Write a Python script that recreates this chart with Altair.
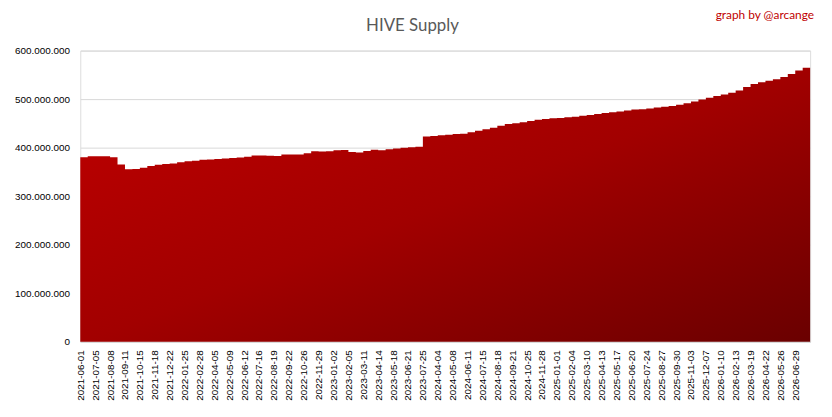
import altair as alt
import pandas as pd

# Axis label dates (every 34th day in the source sheet)
label_dates = [
    "2021-06-01", "2021-07-05", "2021-08-08", "2021-09-11", "2021-10-15", "2021-11-18",
    "2021-12-22", "2022-01-25", "2022-02-28", "2022-04-05", "2022-05-09", "2022-06-12",
    "2022-07-16", "2022-08-19", "2022-09-22", "2022-10-26", "2022-11-29", "2023-01-02",
    "2023-02-05", "2023-03-11", "2023-04-14", "2023-05-18", "2023-06-21", "2023-07-25",
    "2024-04-04", "2024-05-08", "2024-06-11", "2024-07-15", "2024-08-18", "2024-09-21",
    "2024-10-25", "2024-11-28", "2025-01-01", "2025-02-04", "2025-03-10", "2025-04-13",
    "2025-05-17", "2025-06-20", "2025-07-24", "2025-08-27", "2025-09-30", "2025-11-03",
    "2025-12-07", "2026-01-10", "2026-02-13", "2026-03-19", "2026-04-22", "2026-05-26",
    "2026-06-29",
]
# Intermediate sample dates (not labelled on the axis)
mid_dates = [
    "2021-06-18", "2021-07-22", "2021-08-25", "2021-09-28", "2021-11-01", "2021-12-05",
    "2022-01-08", "2022-02-11", "2022-03-17", "2022-04-22", "2022-05-26", "2022-06-29",
    "2022-08-02", "2022-09-05", "2022-10-09", "2022-11-12", "2022-12-16", "2023-01-19",
    "2023-02-22", "2023-03-28", "2023-05-01", "2023-06-04", "2023-07-08", "2024-03-18",
    "2024-04-21", "2024-05-25", "2024-06-28", "2024-08-01", "2024-09-04", "2024-10-08",
    "2024-11-11", "2024-12-15", "2025-01-18", "2025-02-21", "2025-03-27", "2025-04-30",
    "2025-06-03", "2025-07-07", "2025-08-10", "2025-09-13", "2025-10-17", "2025-11-20",
    "2025-12-24", "2026-01-27", "2026-03-02", "2026-04-05", "2026-05-09", "2026-06-12",
    "2026-07-16",
]
end_date = "2026-08-02"

# HIVE supply in millions, one value per sample date (label, mid, label, mid, ..., end)
supply_millions = [
    380, 382, 382, 382, 380, 365, 355.7, 356, 358.5, 362,
    364.7, 366.5, 367.3, 370, 372, 373, 375, 375.5, 376.5, 377.5,
    378.5, 379.6, 381, 383.7, 383.7, 383.2, 382.6, 385.7, 385.7, 385.7,
    388.4, 392.5, 392, 392.5, 394.5, 395, 391, 390, 393, 395.9,
    394.5, 396.5, 398, 400, 401, 402, 423, 424, 425.5, 426.5,
    428, 428.6, 431.5, 435, 438, 441, 445, 448.5, 450, 452.5,
    455, 457.5, 459.2, 460.8, 461.2, 462.6, 463.5, 465.5, 467.5, 469.5,
    471.5, 472.9, 474.5, 476.5, 478.5, 479, 480.5, 482.5, 484.5, 486,
    488.5, 491.5, 495, 499, 503, 506.5, 509.5, 513, 518, 525,
    531, 534.5, 538, 541, 545.5, 552, 559, 564.5, 567,
]

y_ticks = [0, 100_000_000, 200_000_000, 300_000_000, 400_000_000, 500_000_000, 600_000_000]

dates = []
for a, b in zip(label_dates, mid_dates):
    dates += [a, b]
dates.append(end_date)

df = pd.DataFrame({"date": dates, "supply": [v * 1_000_000 for v in supply_millions]})

grad = alt.Gradient(
    gradient="linear",
    stops=[
        alt.GradientStop(color="#c00000", offset=0),
        alt.GradientStop(color="#a20000", offset=0.5),
        alt.GradientStop(color="#6a0000", offset=1),
    ],
    x1=0, y1=0, x2=1, y2=1,
)

area = alt.Chart(df).mark_area(interpolate="step-after", color=grad).encode(
    x=alt.X(
        "date:O",
        sort=None,
        scale=alt.Scale(type="point", padding=0),
        axis=alt.Axis(
            values=label_dates,
            labelAngle=270,
            labelOverlap=False,
            labelPadding=8,
            ticks=False,
            tickSize=0,
            domain=True,
            domainColor="#d9d9d9",
            title=None,
            grid=False,
        ),
    ),
    y=alt.Y(
        "supply:Q",
        scale=alt.Scale(domain=[0, 600_000_000], nice=False),
        axis=alt.Axis(
            values=y_ticks,
            labelExpr="replace(replace(format(datum.value, ','), ',', '.'), ',', '.')",
            ticks=False,
            tickSize=0,
            domain=False,
            labelPadding=11,
            grid=True,
            gridColor="#d9d9d9",
            gridWidth=1,
            title=None,
        ),
    ),
)

title = alt.Chart(pd.DataFrame({"t": ["HIVE Supply"]})).mark_text(
    align="center", baseline="alphabetic", color="#595959", fontSize=17, font="Lato"
).encode(text="t:N", x=alt.value(335.5), y=alt.value(-19.5))

credit = alt.Chart(pd.DataFrame({"t": ["graph by @arcange"]})).mark_text(
    align="right", baseline="alphabetic", color="#c00000", fontSize=12, font="Lato"
).encode(text="t:N", x=alt.value(741), y=alt.value(-31.5))

chart = (
    alt.layer(area, title, credit)
    .properties(
        width=737,
        height=294,
        autosize=alt.AutoSizeParams(type="none"),
        padding={"left": 73, "top": 41, "right": 14, "bottom": 74},
    )
    .configure_view(stroke=None)
    .configure_axis(
        labelFont="Lato",
        labelFontSize=10.5,
        labelColor="#595959",
    )
    .configure(background="white")
)

chart.save("out.html", embed_options={"renderer": "svg", "actions": False})
